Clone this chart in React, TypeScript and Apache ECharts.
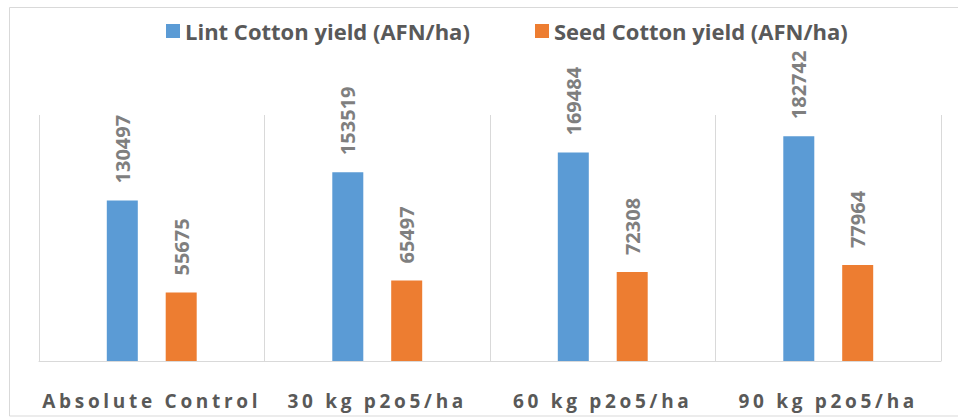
import React, { useEffect, useRef } from "react";
import * as echarts from "echarts";

const categories = ["Absolute Control", "30 kg p2o5/ha", "60 kg p2o5/ha", "90 kg p2o5/ha"];
const lintYield = [130497, 153519, 169484, 182742];
const seedYield = [55675, 65497, 72308, 77964];
const seriesNames = ["Lint Cotton yield (AFN/ha)", "Seed Cotton yield (AFN/ha)"];

const FONT = "'Open Sans', 'DejaVu Sans', sans-serif";

export default function App() {
  const ref = useRef<HTMLDivElement>(null);
  useEffect(() => {
    document.body.style.margin = "0";
    const chart = echarts.init(ref.current!, undefined, { renderer: "svg" });
    const label = {
      show: true,
      position: "top" as const,
      rotate: 90,
      align: "left" as const,
      verticalAlign: "middle" as const,
      distance: 17,
      color: "#7f7f7f",
      fontWeight: "bold" as const,
      fontSize: 20,
      fontFamily: FONT,
    };
    const legendText = { color: "#595959", fontSize: 22, fontWeight: "bold" as const, fontFamily: FONT };
    chart.setOption({
      animation: false,
      backgroundColor: "#ffffff",
      graphic: [
        {
          type: "rect",
          shape: { x: 9.5, y: 7.5, width: 970, height: 408.5 },
          style: { fill: "none", stroke: "#d9d9d9", lineWidth: 1 },
          silent: true,
          z: -10,
        },
      ],
      legend: [
        {
          data: [seriesNames[0]],
          left: 161,
          top: 15,
          itemWidth: 14,
          itemHeight: 14,
          icon: "rect",
          textStyle: legendText,
        },
        {
          data: [seriesNames[1]],
          left: 530,
          top: 15,
          itemWidth: 14,
          itemHeight: 14,
          icon: "rect",
          textStyle: legendText,
        },
      ],
      grid: { left: 39, right: 17, top: 115, bottom: 56, containLabel: false },
      xAxis: {
        type: "category",
        data: categories,
        axisTick: { show: false },
        axisLine: { lineStyle: { color: "#d9d9d9", width: 1 } },
        splitLine: { show: true, lineStyle: { color: "#d9d9d9", width: 1 } },
        axisLabel: {
          color: "#595958",
          fontSize: 19,
          fontWeight: "bold",
          fontFamily: FONT,
          margin: 30,
          interval: 0,
        },
      },
      yAxis: {
        type: "value",
        min: 0,
        max: 200000,
        show: false,
        splitLine: { show: false },
      },
      series: [
        {
          name: seriesNames[0],
          type: "bar",
          data: lintYield,
          barWidth: 31,
          barGap: "90%",
          itemStyle: { color: "#5b9bd5" },
          label,
        },
        {
          name: seriesNames[1],
          type: "bar",
          data: seedYield,
          barWidth: 31,
          itemStyle: { color: "#ed7d31" },
          label,
        },
      ],
    });
    return () => chart.dispose();
  }, []);
  return (
    <>
      <style>{`#chartbox text[fill="#595958"]{letter-spacing:3.7px}`}</style>
      <div
        id="chartbox"
        ref={ref}
        style={{ position: "fixed", left: 0, top: 0, width: 958, height: 417 }}
      />
    </>
  );
}
